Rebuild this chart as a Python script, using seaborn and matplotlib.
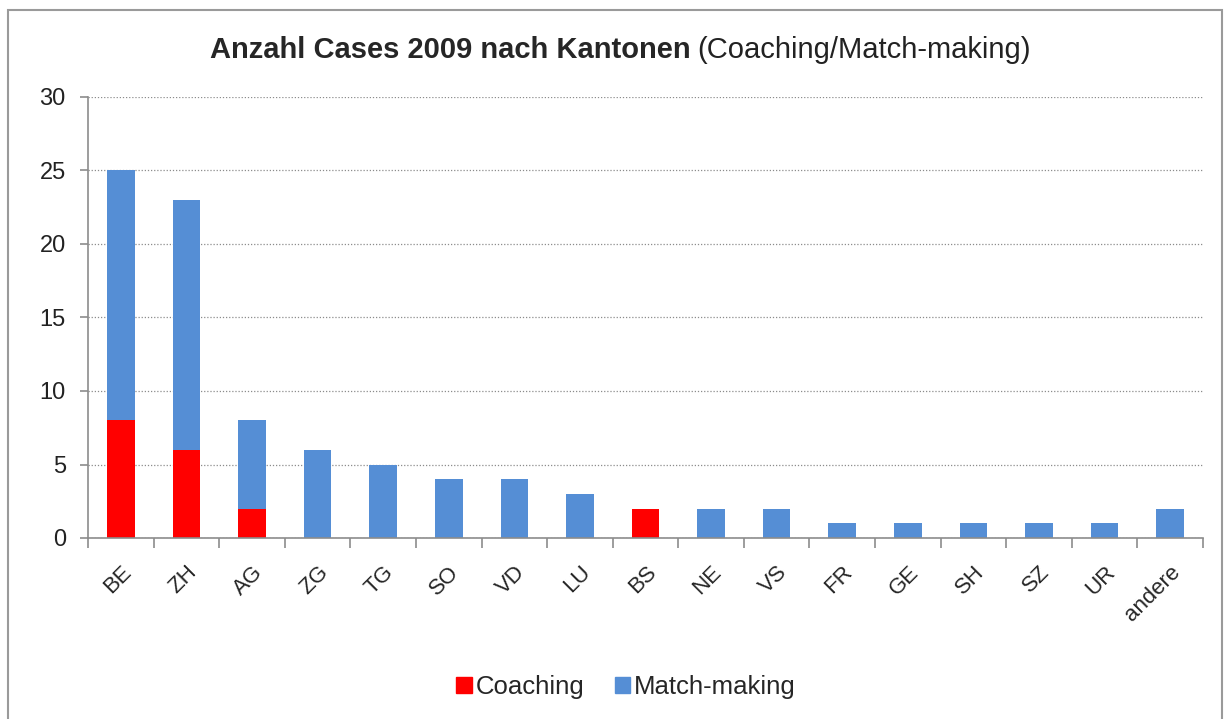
import numpy as np
import matplotlib.pyplot as plt
import seaborn as sns
from matplotlib.patches import Rectangle, Patch

cantons = ['BE', 'ZH', 'AG', 'ZG', 'TG', 'SO', 'VD', 'LU', 'BS', 'NE', 'VS',
           'FR', 'GE', 'SH', 'SZ', 'UR', 'andere']
coaching = [8, 6, 2, 0, 0, 0, 0, 0, 2, 0, 0, 0, 0, 0, 0, 0, 0]
matchmaking = [17, 17, 6, 6, 5, 4, 4, 3, 0, 2, 2, 1, 1, 1, 1, 1, 2]

red = '#ff0000'
blue = '#558ed5'

sns.set_style('white')
plt.rcParams['font.family'] = ['Liberation Sans', 'DejaVu Sans']

fig = plt.figure(figsize=(12.3, 7.19), dpi=100)
ax = fig.add_axes([88 / 1230, 1 - 538 / 719, (1203 - 88) / 1230, (538 - 97) / 719])

# stacked bars: total in blue, coaching drawn over it in red
totals = np.array(coaching) + np.array(matchmaking)
sns.barplot(x=cantons, y=totals, color=blue, width=0.42, saturation=1,
            linewidth=0, ax=ax)
sns.barplot(x=cantons, y=coaching, color=red, width=0.42, saturation=1,
            linewidth=0, ax=ax)

ax.set_xlim(-0.5, len(cantons) - 0.5)
ax.set_ylim(0, 30)
ax.set_yticks(range(0, 31, 5))
ax.yaxis.grid(True, linestyle=(0, (1, 1.5)), color='#8c8c8c', linewidth=0.9)
ax.set_axisbelow(True)
for s in ['top', 'right']:
    ax.spines[s].set_visible(False)
for s in ['left', 'bottom']:
    ax.spines[s].set_color('#8c8c8c')
    ax.spines[s].set_linewidth(1.2)

ax.tick_params(axis='y', length=6, color='#8c8c8c', width=1.2, labelsize=17,
               labelcolor='#222222', pad=10, left=True)
ax.set_xticks(range(len(cantons)))
ax.set_xticklabels(cantons, rotation=45, ha='right', va='top',
                   rotation_mode='anchor', fontsize=16)
ax.tick_params(axis='x', length=0, pad=17)
ax.set_xticks(np.arange(-0.5, len(cantons), 1), minor=True)
ax.tick_params(axis='x', which='minor', length=7, color='#8c8c8c', width=1.2, bottom=True)

# title: bold part + normal part
fig.text(0.5615, 1 - 50 / 719, 'Anzahl Cases 2009 nach Kantonen', fontsize=21,
         fontweight='bold', ha='right', va='center')
fig.text(0.5665, 1 - 50 / 719, '(Coaching/Match-making)', fontsize=21,
         ha='left', va='center', color='#222222')

handles = [Patch(color=red, label='Coaching'), Patch(color=blue, label='Match-making')]
fig.legend(handles=handles, loc='center', bbox_to_anchor=(0.509, 1 - 687 / 719),
           ncol=2, frameon=False, fontsize=18.5, handlelength=0.6, handleheight=0.6,
           handletextpad=0.15, columnspacing=1.2)

fig.patches.append(Rectangle((8 / 1230, -0.05), (1222 - 8) / 1230, 1.05 - 10 / 719,
                             transform=fig.transFigure, fill=False,
                             edgecolor='#9a9a9a', linewidth=1.5))

fig.savefig('out.png', dpi=100)
